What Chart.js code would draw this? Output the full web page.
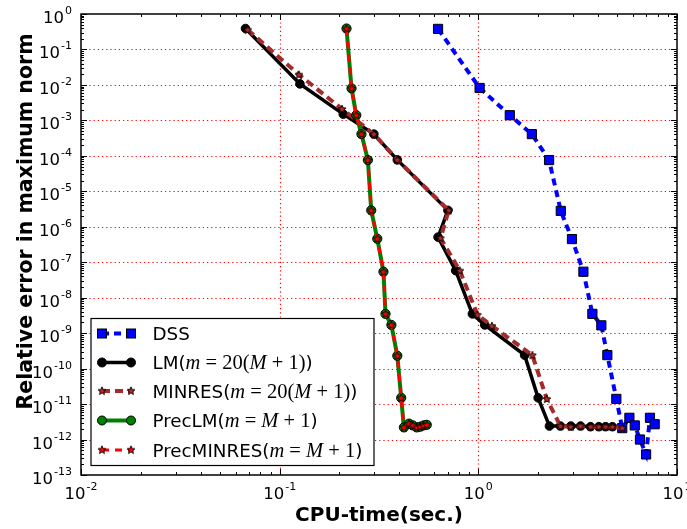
<!DOCTYPE html>
<html>
<head>
<meta charset="utf-8">
<script src="https://cdn.jsdelivr.net/npm/chart.js@4/dist/chart.umd.min.js"></script>
<style>
html,body{margin:0;padding:0;background:#fff;}
#wrap{width:687px;height:529px;position:relative;}
</style>
</head>
<body>
<div id="wrap"><canvas id="c" width="687" height="529"></canvas></div>
<script>
// ---- data ----
const dssTime = [0.627, 1.015, 1.44, 1.86, 2.27, 2.60, 2.96, 3.38, 3.75, 4.16, 4.46, 4.95, 5.3, 5.76, 6.13, 6.51, 6.99, 7.31, 7.72];
const dssErr  = [0.38, 8.2e-3, 1.4e-3, 4.1e-4, 7.6e-5, 2.8e-6, 4.5e-7, 5.4e-8, 3.5e-9, 1.66e-9, 2.4e-10, 1.4e-11, 2.1e-12, 4.1e-12, 2.5e-12, 1.0e-12, 3.8e-13, 4.1e-12, 2.7e-12];

const lmTime = [0.0673, 0.1265, 0.209, 0.298, 0.391, 0.703, 0.627, 0.769, 0.933, 1.077, 1.71, 2.0, 2.28, 2.59, 2.92, 3.27, 3.67, 4.04, 4.37, 4.73];
const lmErr  = [0.39, 0.0107, 1.5e-3, 4.1e-4, 7.7e-5, 2.9e-6, 5.1e-7, 5.8e-8, 3.5e-9, 1.7e-9, 2.4e-10, 1.5e-11, 2.4e-12, 2.4e-12, 2.4e-12, 2.4e-12, 2.3e-12, 2.3e-12, 2.3e-12, 2.3e-12];

const minresTime = [0.069, 0.125, 0.206, 0.298, 0.391, 0.71, 0.645, 0.807, 0.99, 1.17, 1.87, 2.21, 2.59, 2.92, 3.27, 3.67, 4.04, 4.37, 4.73, 5.3];
const minresErr  = [0.36, 0.0195, 2.1e-3, 4.1e-4, 7.7e-5, 2.9e-6, 4.8e-7, 5.8e-8, 3.3e-9, 1.6e-9, 2.4e-10, 1.4e-11, 2.4e-12, 2.3e-12, 2.4e-12, 2.3e-12, 2.3e-12, 2.3e-12, 2.3e-12, 2.1e-12];

const precLmTime = [0.217, 0.230, 0.243, 0.258, 0.278, 0.289, 0.310, 0.333, 0.341, 0.365, 0.391, 0.409, 0.422, 0.448, 0.468, 0.49, 0.51, 0.53, 0.55];
const precLmErr  = [0.39, 8e-3, 1.4e-3, 4.1e-4, 7.6e-5, 2.9e-6, 4.6e-7, 5.4e-8, 3.5e-9, 1.7e-9, 2.3e-10, 1.5e-11, 2.2e-12, 2.8e-12, 2.5e-12, 2.2e-12, 2.3e-12, 2.5e-12, 2.6e-12];

const precMinresTime = [0.217, 0.230, 0.243, 0.258, 0.278, 0.289, 0.310, 0.333, 0.341, 0.365, 0.391, 0.409, 0.422, 0.448, 0.468, 0.49, 0.51, 0.53, 0.55];
const precMinresErr  = [0.39, 8e-3, 1.4e-3, 4.1e-4, 7.6e-5, 2.9e-6, 4.6e-7, 5.4e-8, 3.5e-9, 1.7e-9, 2.3e-10, 1.5e-11, 2.2e-12, 2.8e-12, 2.5e-12, 2.2e-12, 2.3e-12, 2.5e-12, 2.6e-12];

const xTickExps = [-2, -1, 0, 1];
const yTickExps = [0, -1, -2, -3, -4, -5, -6, -7, -8, -9, -10, -11, -12, -13];
const xTitle = "CPU-time(sec.)";
const yTitle = "Relative error in maximum norm";
const legendLabels = [
  [{t:"DSS"}],
  [{t:"LM("},{t:"m",i:1},{t:" = ",m:1},{t:"20(",m:1},{t:"M",i:1},{t:" + 1)",m:1},{t:")"}],
  [{t:"MINRES("},{t:"m",i:1},{t:" = ",m:1},{t:"20(",m:1},{t:"M",i:1},{t:" + 1)",m:1},{t:")"}],
  [{t:"PrecLM("},{t:"m",i:1},{t:" = ",m:1},{t:"M",i:1},{t:" + 1",m:1},{t:")"}],
  [{t:"PrecMINRES("},{t:"m",i:1},{t:" = ",m:1},{t:"M",i:1},{t:" + 1",m:1},{t:")"}]
];

function pts(xs, ys){ return xs.map((x,i)=>({x:x, y:ys[i]})); }

function makeStar(fill){
  const c = document.createElement('canvas');
  c.width = 10; c.height = 10;
  const g = c.getContext('2d');
  g.beginPath();
  for(let k=0;k<10;k++){
    const r = (k%2===0) ? 4.2 : 1.9;
    const a = -Math.PI/2 + k*Math.PI/5;
    const px = 5 + r*Math.cos(a), py = 5.3 + r*Math.sin(a);
    if(k===0) g.moveTo(px,py); else g.lineTo(px,py);
  }
  g.closePath();
  g.fillStyle = fill; g.fill();
  g.lineWidth = 0.9; g.strokeStyle = '#000'; g.stroke();
  return c;
}
const starBrown = makeStar('#b22a2a');
const starRed = makeStar('#ff0000');

const datasets = [
  {label:'DSS', data:pts(dssTime,dssErr), borderColor:'#0000ff', borderWidth:4, borderDash:[7,5],
   pointStyle:'rect', pointRadius:6.5, pointBackgroundColor:'#0000ff', pointBorderColor:'#000', pointBorderWidth:1, order:5},
  {label:'LM', data:pts(lmTime,lmErr), borderColor:'#000', borderWidth:3.5,
   pointStyle:'circle', pointRadius:4.3, pointBackgroundColor:'#000', pointBorderColor:'#000', pointBorderWidth:1, order:4},
  {label:'MINRES', data:pts(minresTime,minresErr), borderColor:'#a52a2a', borderWidth:4, borderDash:[8,5],
   pointStyle:starBrown, pointRadius:5, order:3},
  {label:'PrecLM', data:pts(precLmTime,precLmErr), borderColor:'#008000', borderWidth:4,
   pointStyle:'circle', pointRadius:4.6, pointBackgroundColor:'#008000', pointBorderColor:'#000', pointBorderWidth:1, order:2},
  {label:'PrecMINRES', data:pts(precMinresTime,precMinresErr), borderColor:'#ff0000', borderWidth:3, borderDash:[7,6],
   pointStyle:starRed, pointRadius:5, order:1}
];

const SANS = '"DejaVu Sans", sans-serif';
const SERIF = '"Liberation Serif", "DejaVu Serif", serif';

function drawPow(ctx, e, x, baseY, align){
  const big = '16.5px ' + SANS, small = '11px ' + SANS;
  const es = (e<0 ? '-' : '') + Math.abs(e);
  ctx.font = big; const w1 = ctx.measureText('10').width;
  ctx.font = small; const w2 = ctx.measureText(es).width;
  const tw = w1 + 1 + w2;
  let x0 = align==='right' ? x - tw : x - tw/2;
  ctx.fillStyle = '#000'; ctx.textAlign='left'; ctx.textBaseline='alphabetic';
  ctx.font = big; ctx.fillText('10', x0, baseY);
  ctx.font = small; ctx.fillText(es, x0 + w1 + 1, baseY - 9);
}

const decadesX = [0.01, 0.1, 1, 10];
const decadesY = yTickExps.map(e=>Math.pow(10,e)).reverse();

const decor = {
  id:'decor',
  beforeDatasetsDraw(chart){
    const ctx = chart.ctx, a = chart.chartArea;
    const xs = chart.scales.x, ys = chart.scales.y;
    ctx.save();
    ctx.strokeStyle = '#ff0000'; ctx.lineWidth = 1.2; ctx.setLineDash([1.2,3]);
    ctx.beginPath();
    [0.1, 1].forEach(v=>{
      const px = Math.round(xs.getPixelForValue(v))+0.5;
      ctx.moveTo(px, a.top); ctx.lineTo(px, a.bottom);
    });
    decadesY.forEach(v=>{
      if(v>0.5 || v<2e-13) return;
      const py = Math.round(ys.getPixelForValue(v))+0.5;
      ctx.moveTo(a.left, py); ctx.lineTo(a.right, py);
    });
    ctx.stroke();
    ctx.restore();
  },
  afterDatasetsDraw(chart){
    const ctx = chart.ctx, a = chart.chartArea;
    const xs = chart.scales.x, ys = chart.scales.y;
    ctx.save();
    ctx.strokeStyle = '#000'; ctx.lineWidth = 1;
    ctx.beginPath();
    for(let n=-2;n<=1;n++){
      const px = Math.round(xs.getPixelForValue(Math.pow(10,n)))+0.5;
      ctx.moveTo(px,a.bottom); ctx.lineTo(px,a.bottom-6);
      ctx.moveTo(px,a.top); ctx.lineTo(px,a.top+6);
      if(n<1){
        for(let k=2;k<=9;k++){
          const q = Math.round(xs.getPixelForValue(k*Math.pow(10,n)))+0.5;
          ctx.moveTo(q,a.bottom); ctx.lineTo(q,a.bottom-3);
          ctx.moveTo(q,a.top); ctx.lineTo(q,a.top+3);
        }
      }
    }
    for(let n=-13;n<=0;n++){
      const py = Math.round(ys.getPixelForValue(Math.pow(10,n)))+0.5;
      ctx.moveTo(a.left,py); ctx.lineTo(a.left+6,py);
      ctx.moveTo(a.right,py); ctx.lineTo(a.right-6,py);
      if(n<0){
        for(let k=2;k<=9;k++){
          const q = Math.round(ys.getPixelForValue(k*Math.pow(10,n)))+0.5;
          ctx.moveTo(a.left,q); ctx.lineTo(a.left+3,q);
          ctx.moveTo(a.right,q); ctx.lineTo(a.right-3,q);
        }
      }
    }
    ctx.stroke();
    ctx.lineWidth = 1.5;
    ctx.strokeRect(a.left, a.top, a.right-a.left, a.bottom-a.top);
    ctx.restore();
  },
  afterDraw(chart){
    const ctx = chart.ctx, a = chart.chartArea;
    const xs = chart.scales.x, ys = chart.scales.y;
    ctx.save();
    xTickExps.forEach(e=>{
      drawPow(ctx, e, xs.getPixelForValue(Math.pow(10,e)), 499, 'center');
    });
    yTickExps.forEach(e=>{
      drawPow(ctx, e, a.left-9, ys.getPixelForValue(Math.pow(10,e))+9, 'right');
    });
    ctx.fillStyle='#000';
    ctx.font = 'bold 20px ' + SANS;
    ctx.textAlign='center'; ctx.textBaseline='middle';
    ctx.fillText(xTitle, (a.left+a.right)/2, 516);
    ctx.save();
    ctx.translate(27, (a.top+a.bottom)/2 - 23);
    ctx.rotate(-Math.PI/2);
    ctx.font = 'bold 20.5px ' + SANS;
    ctx.fillText(yTitle, 0, 0);
    ctx.restore();
    // legend
    const L = 91, T = 318.5, R = 374, B = 465.5;
    ctx.fillStyle = '#fff'; ctx.fillRect(L,T,R-L,B-T);
    ctx.strokeStyle = '#000'; ctx.lineWidth = 1.2; ctx.strokeRect(L,T,R-L,B-T);
    const rowY = [333.5, 362.5, 391, 420.5, 450];
    const x1 = 102, x2 = 131;
    datasets.forEach((ds,i)=>{
      const y = rowY[i];
      ctx.save();
      ctx.strokeStyle = ds.borderColor; ctx.lineWidth = ds.borderWidth;
      ctx.setLineDash(ds.borderDash || []);
      ctx.beginPath(); ctx.moveTo(x1,y); ctx.lineTo(x2,y); ctx.stroke();
      ctx.restore();
      [x1,x2].forEach(px=>{
        if(ds.pointStyle==='rect'){
          ctx.fillStyle = ds.pointBackgroundColor; ctx.fillRect(px-4.5,y-4.5,9,9);
          ctx.strokeStyle='#000'; ctx.lineWidth=1; ctx.strokeRect(px-4.5,y-4.5,9,9);
        } else if(ds.pointStyle==='circle'){
          ctx.beginPath(); ctx.arc(px,y,4.5,0,Math.PI*2);
          ctx.fillStyle = ds.pointBackgroundColor; ctx.fill();
          ctx.strokeStyle='#000'; ctx.lineWidth=1; ctx.stroke();
        } else {
          ctx.drawImage(ds.pointStyle, px-5, y-5.3);
        }
      });
      let tx = 152.5;
      ctx.fillStyle='#000'; ctx.textAlign='left'; ctx.textBaseline='alphabetic';
      legendLabels[i].forEach(seg=>{
        if(seg.i) ctx.font = 'italic 20.5px ' + SERIF;
        else if(seg.m) ctx.font = '20.5px ' + SERIF;
        else ctx.font = '18.3px ' + SANS;
        ctx.fillText(seg.t, tx, y+6.5);
        tx += ctx.measureText(seg.t).width;
      });
    });
    ctx.restore();
  }
};

new Chart(document.getElementById('c'), {
  type:'line',
  data:{datasets:datasets},
  options:{
    responsive:false, animation:false, devicePixelRatio:1,
    layout:{padding:{left:0, top:14, right:10, bottom:0}},
    elements:{line:{tension:0, fill:false}},
    plugins:{legend:{display:false}, tooltip:{enabled:false}},
    scales:{
      x:{type:'logarithmic', min:0.01, max:10,
         afterBuildTicks(s){ s.ticks = decadesX.map(v=>({value:v})); },
         afterFit(s){ s.height = 54; },
         ticks:{display:false},
         border:{display:false},
         grid:{display:false}},
      y:{type:'logarithmic', min:1e-13, max:1,
         afterBuildTicks(s){ s.ticks = decadesY.map(v=>({value:v})); },
         afterFit(s){ s.width = 81; },
         ticks:{display:false},
         border:{display:false},
         grid:{display:false}}
    }
  },
  plugins:[decor]
});
</script>
</body>
</html>
